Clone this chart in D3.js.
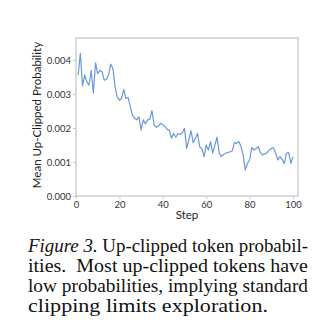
<!DOCTYPE html>
<html><head><meta charset="utf-8">
<script src="https://cdn.jsdelivr.net/npm/d3@7"></script>
<style>html,body{margin:0;padding:0;background:#fff;}</style>
</head><body>
<script>
const steps = d3.range(1, 101);
const values = [
3.56,4.20,3.24,3.56,3.36,3.26,3.70,3.03,3.92,3.60,
3.70,3.66,3.41,3.43,3.56,3.88,3.76,3.21,2.92,2.82,
2.87,3.14,2.87,2.90,2.63,2.38,2.29,2.24,2.33,1.94,
2.24,2.12,2.24,2.26,2.51,2.09,2.02,2.06,2.14,2.10,
2.04,1.96,1.94,1.70,1.84,1.73,1.84,1.81,1.86,1.99,
1.40,1.65,1.92,1.57,1.70,1.84,1.45,1.40,1.16,1.50,
1.35,1.60,1.26,1.50,1.73,1.26,1.16,1.22,1.26,1.28,
1.30,1.33,1.57,1.55,1.60,1.47,1.21,0.76,0.96,1.06,
1.43,1.35,1.40,1.45,1.27,1.21,1.24,1.27,1.35,1.40,
1.42,1.26,1.06,1.16,1.08,0.96,1.26,1.28,0.96,1.16
].map(v => v * 0.001);
const xTicks = [0, 20, 40, 60, 80, 100];
const yTicks = [0, 0.001, 0.002, 0.003, 0.004];
const xLabel = "Step";
const yLabel = "Mean Up-Clipped Probability";
const captionLines = [
  ["Figure 3.", " Up-clipped token probabil-"],
  ["", "ities.  Most up-clipped tokens have"],
  ["", "low probabilities, implying standard"],
  ["", "clipping limits exploration."]
];
const captionWidths = [280, 280, 280, 240];

const W = 324, H = 330;
const m = {left: 76, right: 298, top: 38, bottom: 196};
const svg = d3.select("body").append("svg").attr("width", W).attr("height", H);

const x = d3.scaleLinear().domain([0, 102.3]).range([m.left, m.right]);
const y = d3.scaleLinear().domain([0, 0.00465]).range([m.bottom, m.top]);

const font = "Lato, 'Open Sans', sans-serif";
const grey = "#c8c8c8";

svg.append("rect").attr("x", m.left).attr("y", m.top)
  .attr("width", m.right - m.left).attr("height", m.bottom - m.top)
  .attr("fill", "none").attr("stroke", grey).attr("stroke-width", 1.3);

const xAxis = svg.append("g").attr("transform", `translate(0,${m.bottom})`)
  .call(d3.axisBottom(x).tickValues(xTicks).tickFormat(d3.format("d")).tickSize(3).tickPadding(2));
const yAxis = svg.append("g").attr("transform", `translate(${m.left},0)`)
  .call(d3.axisLeft(y).tickValues(yTicks).tickFormat(d3.format(".3f")).tickSize(3).tickPadding(2));
[xAxis, yAxis].forEach(g => {
  g.select(".domain").remove();
  g.selectAll(".tick line").attr("stroke", grey);
  g.selectAll(".tick text").attr("fill", "#333").style("font-family", font).style("font-size", "9.5px");
});

svg.append("path").datum(steps.map((s, i) => [s, values[i]]))
  .attr("fill", "none").attr("stroke", "#6898d8").attr("stroke-width", 1.2)
  .attr("stroke-linejoin", "round")
  .attr("d", d3.line().x(d => x(d[0])).y(d => y(d[1])));

svg.append("text").attr("x", (m.left + m.right) / 2).attr("y", 219)
  .attr("text-anchor", "middle").attr("fill", "#222")
  .style("font-family", font).style("font-size", "11.5px").text(xLabel);
svg.append("text").attr("transform", `translate(41,${(m.top + m.bottom) / 2 - 2}) rotate(-90)`)
  .attr("text-anchor", "middle").attr("fill", "#222")
  .style("font-family", font).style("font-size", "11.5px").text(yLabel);

const capX = 28;
captionLines.forEach((ln, i) => {
  const t = svg.append("text").attr("x", capX).attr("y", 252 + i * 20)
    .style("font-family", "'Liberation Serif', 'Times New Roman', serif")
    .style("font-size", "18.5px").style("white-space", "pre").attr("fill", "#111")
    .attr("textLength", captionWidths[i]).attr("lengthAdjust", "spacingAndGlyphs");
  if (ln[0]) t.append("tspan").style("font-style", "italic").text(ln[0]);
  t.append("tspan").text(ln[1]);
});
</script>
</body></html>
